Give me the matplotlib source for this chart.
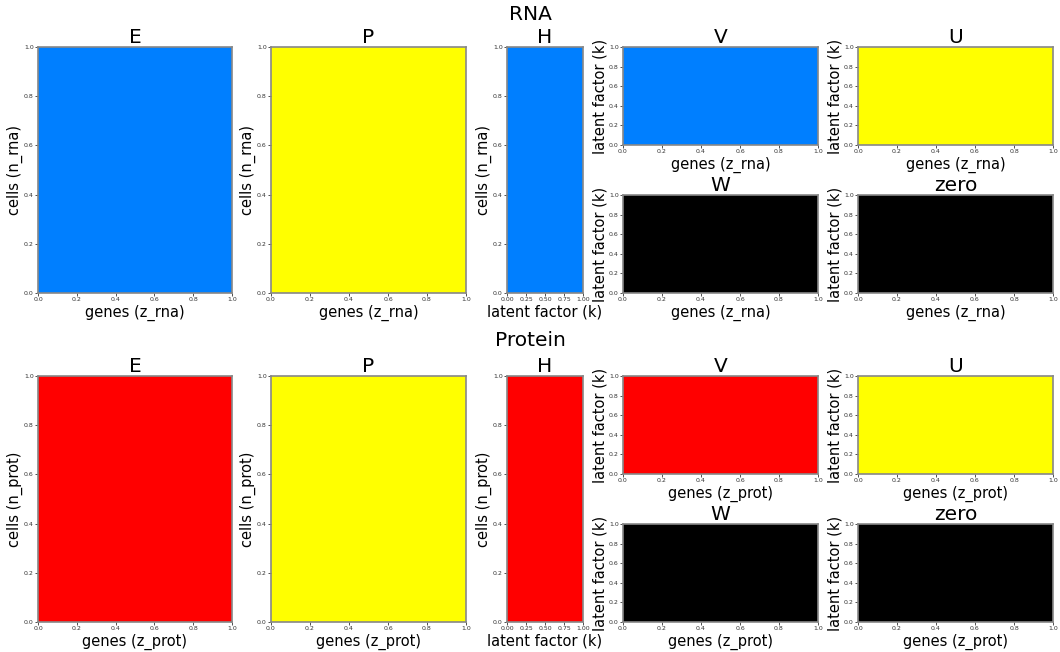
import numpy as np
import matplotlib
matplotlib.use("Agg")
from matplotlib import pyplot as plt
from matplotlib.colors import ListedColormap

# panel contents for each modality: (name, fill value, colour)
rna_panels = ["E", "P", "H", "V", "U", "W", "zero"]
rna_colors = ["#007fff", "#ffff00", "#007fff", "#007fff", "#ffff00", "#000000", "#000000"]
prot_colors = ["#ff0000", "#ffff00", "#ff0000", "#ff0000", "#ffff00", "#000000", "#000000"]
fill_values = [1.0, 1.0, 1.0, 1.0, 1.0, 0.0, 0.0]

rna_xlabels = ["genes (z_rna)", "genes (z_rna)", "latent factor (k)",
               "genes (z_rna)", "genes (z_rna)", "genes (z_rna)", "genes (z_rna)"]
rna_ylabels = ["cells (n_rna)", "cells (n_rna)", "cells (n_rna)",
               "latent factor (k)", "latent factor (k)", "latent factor (k)", "latent factor (k)"]
prot_xlabels = ["genes (z_prot)", "genes (z_prot)", "latent factor (k)",
                "genes (z_prot)", "genes (z_prot)", "genes (z_prot)", "genes (z_prot)"]
prot_ylabels = ["cells (n_prot)", "cells (n_prot)", "cells (n_prot)",
                "latent factor (k)", "latent factor (k)", "latent factor (k)", "latent factor (k)"]

W, H = 1060, 652


def px_box(x0, y0, x1, y1):
    return [x0 / W, 1 - y1 / H, (x1 - x0) / W, (y1 - y0) / H]


def draw_block(fig, top, names, colors, xlabels, ylabels):
    tall = top + 246
    boxes = [
        px_box(38, top, 232, tall),
        px_box(271, top, 466, tall),
        px_box(507, top, 583, tall),
        px_box(623, top, 818, top + 98),
        px_box(858, top, 1053, top + 98),
        px_box(623, top + 148, 818, tall),
        px_box(858, top + 148, 1053, tall),
    ]
    for name, col, val, xl, yl, box in zip(names, colors, fill_values, xlabels, ylabels, boxes):
        ax = fig.add_axes(box)
        mat = np.full((10, 10), val)
        ax.imshow(mat, cmap=ListedColormap([col]), extent=[0, 1, 0, 1],
                  aspect="auto", origin="lower")
        ax.set_title(name, fontsize=14.5, pad=2)
        ax.set_xlabel(xl, fontsize=10.5, labelpad=2)
        ax.set_ylabel(yl, fontsize=10.5, labelpad=1)
        ax.tick_params(labelsize=4.5, length=2, width=0.6, pad=1, colors="#333333")
        for sp in ax.spines.values():
            sp.set_color("#888888")
            sp.set_linewidth(1.2)


fig = plt.figure(figsize=(10.6, 6.52), dpi=100)
fig.text(0.5, 1 - 14 / H, "RNA", fontsize=14.5, ha="center", va="center")
fig.text(0.5, 1 - 341 / H, "Protein", fontsize=14.5, ha="center", va="center")
draw_block(fig, 47, rna_panels, rna_colors, rna_xlabels, rna_ylabels)
draw_block(fig, 376, rna_panels, prot_colors, prot_xlabels, prot_ylabels)
fig.savefig("out.png", dpi=100)
